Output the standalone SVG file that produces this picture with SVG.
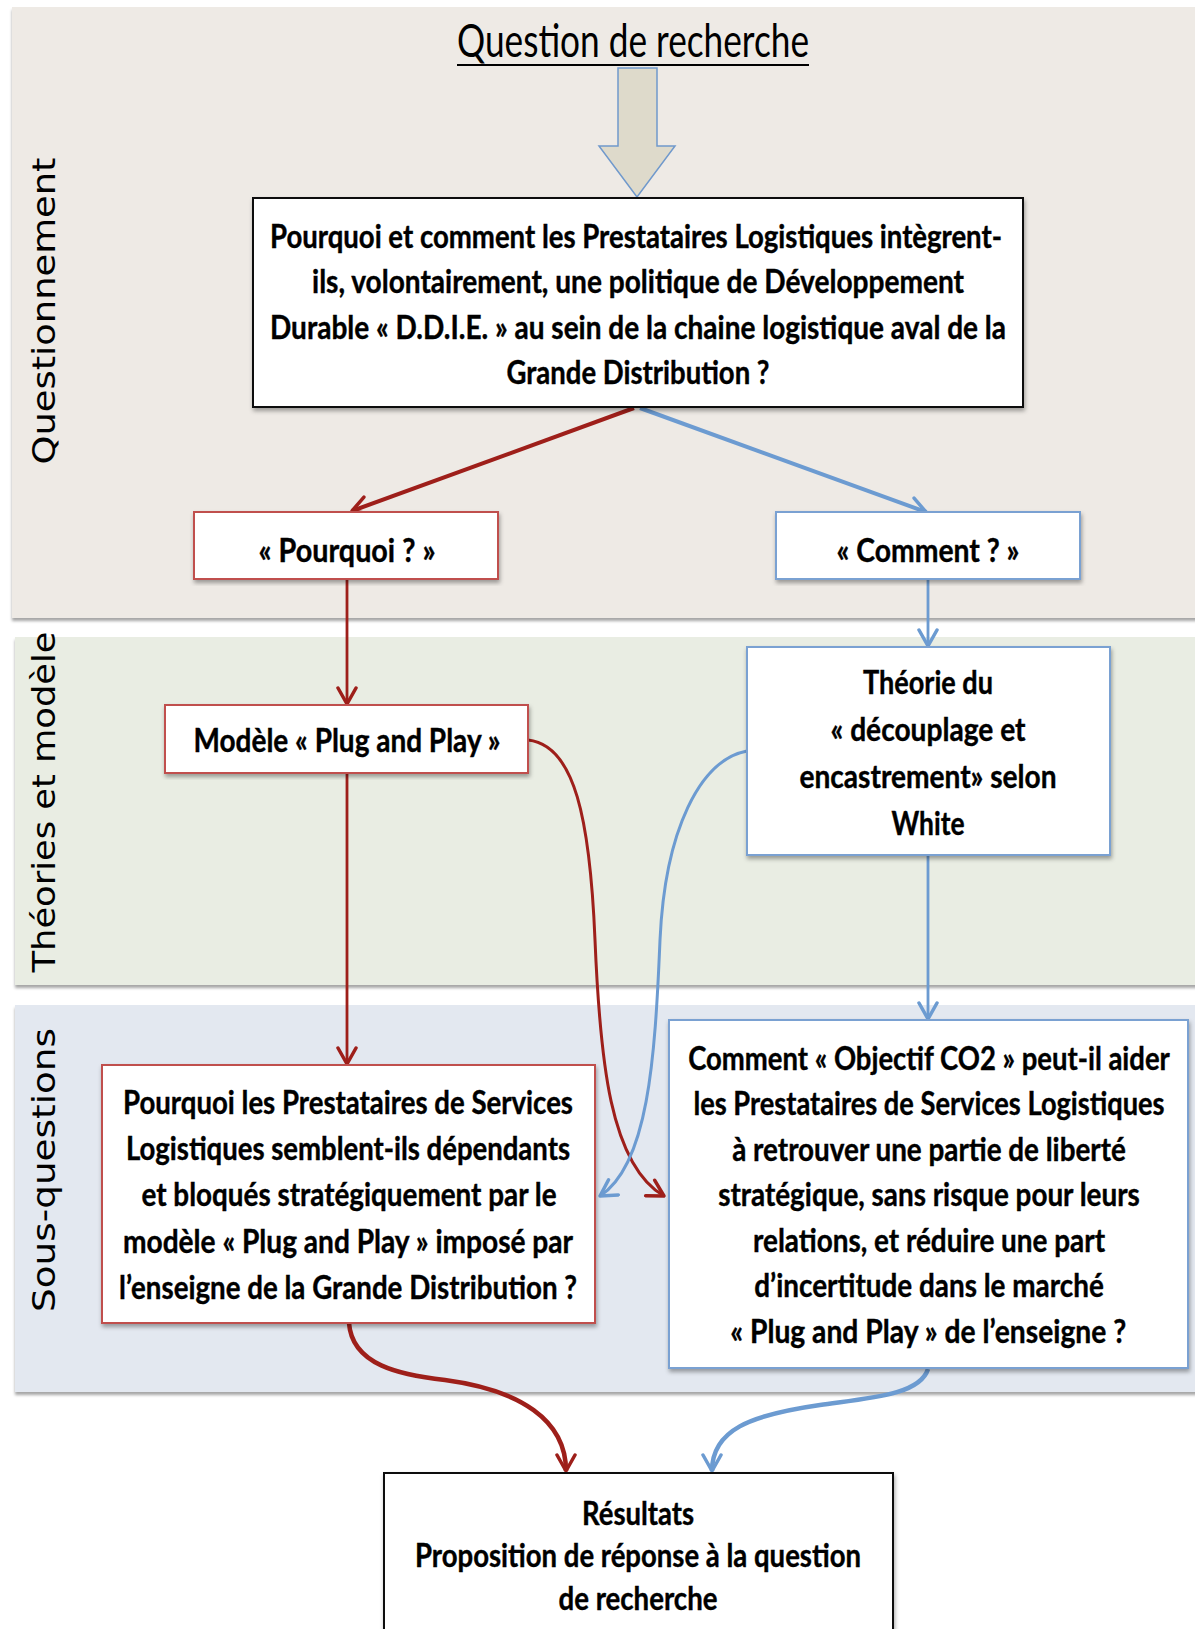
<svg xmlns="http://www.w3.org/2000/svg" width="1195" height="1629" viewBox="0 0 1195 1629">
<defs>
<filter id="sh" x="-5%" y="-5%" width="110%" height="115%">
<feDropShadow dx="1" dy="3" stdDeviation="2" flood-color="#000" flood-opacity="0.35"/>
</filter>
<filter id="bsh" x="-2%" y="-2%" width="104%" height="104%">
<feDropShadow dx="0" dy="3" stdDeviation="1.5" flood-color="#000" flood-opacity="0.35"/>
</filter>
<marker id="ar" viewBox="0 0 22 22" markerWidth="22" markerHeight="22" refX="19" refY="11" orient="auto" markerUnits="userSpaceOnUse">
<path d="M3,2 L19,11 L3,20" fill="none" stroke="#9E1F1A" stroke-width="3.5" stroke-linecap="round" stroke-linejoin="round"/>
</marker>
<marker id="ab" viewBox="0 0 22 22" markerWidth="22" markerHeight="22" refX="19" refY="11" orient="auto" markerUnits="userSpaceOnUse">
<path d="M3,2 L19,11 L3,20" fill="none" stroke="#6C9BD1" stroke-width="3.5" stroke-linecap="round" stroke-linejoin="round"/>
</marker>
</defs>
<style>
.band{filter:url(#bsh)}
.lbl{font-family:"DejaVu Sans",sans-serif;font-size:32px;fill:#000}
.t{font-family:Lato,"Liberation Sans",sans-serif;font-weight:bold;font-size:32px;fill:#000;text-anchor:middle;stroke:#000;stroke-width:0.4}
.box{fill:#fff;stroke-width:2;filter:url(#sh)}
.bk{stroke:#111}
.rd{stroke:#C0504D}
.bl{stroke:#7AA1D2}
.cr{fill:none;stroke:#9E1F1A}
.cb{fill:none;stroke:#6C9BD1}
</style>
<rect width="1195" height="1629" fill="#fff"/>
<g id="bands">
<rect class="band" x="12" y="7" width="1195" height="611" fill="#EEEAE5"/>
<rect class="band" x="15" y="637" width="1195" height="348" fill="#E9EDE3"/>
<rect class="band" x="15" y="1005" width="1195" height="387" fill="#E3E8F0"/>
<text class="lbl" transform="translate(55,311) rotate(-90)" text-anchor="middle" textLength="307" lengthAdjust="spacingAndGlyphs">Questionnement</text>
<text class="lbl" transform="translate(55,802) rotate(-90)" text-anchor="middle" textLength="341" lengthAdjust="spacingAndGlyphs">Théories et modèle</text>
<text class="lbl" transform="translate(55,1170) rotate(-90)" text-anchor="middle" textLength="284" lengthAdjust="spacingAndGlyphs">Sous-questions</text>
</g>
<g id="title">
<text x="633" y="57" font-family="Lato,'Liberation Sans',sans-serif" font-size="46" text-anchor="middle" textLength="352" lengthAdjust="spacingAndGlyphs">Question de recherche</text>
<line x1="457" y1="65" x2="809" y2="65" stroke="#000" stroke-width="2"/>
</g>
<g id="block-arrow">
<polygon points="618,68 657,68 657,146 675,146 637,197 599,146 618,146" fill="#DEDACB" stroke="#7099CC" stroke-width="1.5"/>
</g>
<g id="connectors">
<path class="cr" d="M634,408 L352,511" stroke-width="4" marker-end="url(#ar)"/>
<path class="cb" d="M640,408 L926,512" stroke-width="4" marker-end="url(#ab)"/>
<path class="cr" d="M347,579 L347,704" stroke-width="2.8" marker-end="url(#ar)"/>
<path class="cb" d="M928,579 L928,646" stroke-width="2.8" marker-end="url(#ab)"/>
<path class="cr" d="M347,773 L347,1064" stroke-width="2.8" marker-end="url(#ar)"/>
<path class="cb" d="M928,855 L928,1019" stroke-width="2.8" marker-end="url(#ab)"/>
<path class="cr" d="M528,740 C575,745 590,820 595,940 C600,1060 610,1165 664,1196" stroke-width="3" marker-end="url(#ar)"/>
<path class="cb" d="M747,751 C700,760 665,830 660,940 C655,1060 648,1165 600,1196" stroke-width="3" marker-end="url(#ab)"/>
<path class="cr" d="M349,1323 C352,1365 400,1375 445,1380 C520,1390 566,1420 566,1471" stroke-width="4.5" marker-end="url(#ar)"/>
<path class="cb" d="M928,1369 C920,1395 870,1398 820,1405 C750,1415 712,1430 712,1471" stroke-width="4.5" marker-end="url(#ab)"/>
</g>
<g id="main-question">
<rect class="box bk" x="253" y="198" width="770" height="209"/>
<text class="t" x="636" y="248" textLength="732" lengthAdjust="spacingAndGlyphs">Pourquoi et comment les Prestataires Logistiques intègrent-</text>
<text class="t" x="638" y="293" textLength="652" lengthAdjust="spacingAndGlyphs">ils, volontairement, une politique de Développement</text>
<text class="t" x="638" y="339" textLength="736" lengthAdjust="spacingAndGlyphs">Durable « D.D.I.E. » au sein de la chaine logistique aval de la</text>
<text class="t" x="638" y="384" textLength="263" lengthAdjust="spacingAndGlyphs">Grande Distribution ?</text>
</g>
<g id="pourquoi">
<rect class="box rd" x="194" y="512" width="304" height="67"/>
<text class="t" x="347" y="562" textLength="177" lengthAdjust="spacingAndGlyphs">« Pourquoi ? »</text>
</g>
<g id="comment">
<rect class="box bl" x="776" y="512" width="304" height="67"/>
<text class="t" x="928" y="562" textLength="183" lengthAdjust="spacingAndGlyphs">« Comment ? »</text>
</g>
<g id="modele">
<rect class="box rd" x="165" y="705" width="363" height="68"/>
<text class="t" x="347" y="752" textLength="307" lengthAdjust="spacingAndGlyphs">Modèle « Plug and Play »</text>
</g>
<g id="theorie">
<rect class="box bl" x="747" y="647" width="363" height="208"/>
<text class="t" x="928" y="694" textLength="130" lengthAdjust="spacingAndGlyphs">Théorie du</text>
<text class="t" x="928" y="741" textLength="195" lengthAdjust="spacingAndGlyphs">« découplage et</text>
<text class="t" x="928" y="788" textLength="257" lengthAdjust="spacingAndGlyphs">encastrement» selon</text>
<text class="t" x="928" y="835" textLength="73" lengthAdjust="spacingAndGlyphs">White</text>
</g>
<g id="sous-question-1">
<rect class="box rd" x="102" y="1065" width="493" height="258"/>
<text class="t" x="348" y="1114" textLength="450" lengthAdjust="spacingAndGlyphs">Pourquoi les Prestataires de Services</text>
<text class="t" x="348" y="1160" textLength="444" lengthAdjust="spacingAndGlyphs">Logistiques semblent-ils dépendants</text>
<text class="t" x="349" y="1206" textLength="415" lengthAdjust="spacingAndGlyphs">et bloqués stratégiquement par le</text>
<text class="t" x="348" y="1253" textLength="450" lengthAdjust="spacingAndGlyphs">modèle « Plug and Play » imposé par</text>
<text class="t" x="348" y="1299" textLength="458" lengthAdjust="spacingAndGlyphs">l’enseigne de la Grande Distribution ?</text>
</g>
<g id="sous-question-2">
<rect class="box bl" x="669" y="1020" width="519" height="348"/>
<g transform="translate(929,0) scale(0.8,1)">
<text class="t" x="0" y="1070" textLength="602" lengthAdjust="spacingAndGlyphs">Comment « Objectif CO2 » peut-il aider</text>
<text class="t" x="0" y="1115" textLength="589" lengthAdjust="spacingAndGlyphs">les Prestataires de Services Logistiques</text>
<text class="t" x="0" y="1161" textLength="492" lengthAdjust="spacingAndGlyphs">à retrouver une partie de liberté</text>
<text class="t" x="0" y="1206" textLength="527" lengthAdjust="spacingAndGlyphs">stratégique, sans risque pour leurs</text>
<text class="t" x="0" y="1252" textLength="440" lengthAdjust="spacingAndGlyphs">relations, et réduire une part</text>
<text class="t" x="0" y="1297" textLength="437" lengthAdjust="spacingAndGlyphs">d’incertitude dans le marché</text>
<text class="t" x="-1" y="1343" textLength="495" lengthAdjust="spacingAndGlyphs">« Plug and Play » de l’enseigne ?</text>
</g>
</g>
<g id="resultats">
<rect class="box bk" x="384" y="1473" width="509" height="180"/>
<text class="t" x="638" y="1525" textLength="112" lengthAdjust="spacingAndGlyphs">Résultats</text>
<text class="t" x="638" y="1567" textLength="446" lengthAdjust="spacingAndGlyphs">Proposition de réponse à la question</text>
<text class="t" x="638" y="1610" textLength="159" lengthAdjust="spacingAndGlyphs">de recherche</text>
</g>
</svg>
